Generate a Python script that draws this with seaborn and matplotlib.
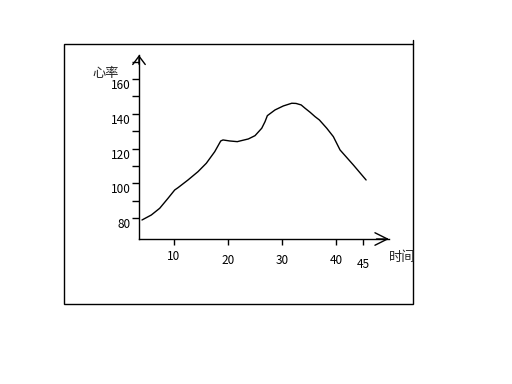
import matplotlib
matplotlib.use("Agg")
import matplotlib.pyplot as plt
import seaborn as sns
import pandas as pd
from matplotlib.patches import Rectangle

# data
time_min = [4.07, 5.80, 7.35, 8.89, 10.13, 10.74, 12.59, 14.44, 15.98, 17.54, 18.65, 19.07,
            20.31, 21.72, 22.22, 23.76, 25.00, 26.24, 26.85, 27.28, 28.70, 30.24, 31.80,
            32.59, 33.54, 34.26, 35.19, 36.11, 36.91, 38.28, 39.50, 40.74, 43.20, 45.56]
heart_rate = [78.85, 81.73, 85.59, 91.35, 96.14, 97.46, 101.90, 106.69, 111.53, 118.21, 124.38, 124.96,
              124.38, 123.98, 124.38, 125.53, 127.44, 131.70, 135.50, 138.96, 142.25, 144.55, 146.11,
              146.00, 145.13, 143.23, 140.92, 138.39, 136.48, 131.70, 126.86, 119.19, 110.55, 101.90]
x_ticks = [10, 20, 30, 40, 45]
y_ticks = [80, 90, 100, 110, 120, 130, 140, 150, 160, 170]
y_labels = ["80", "", "100", "", "120", "", "140", "", "160", ""]
x_label = "时间"
y_label = "心率"

df = pd.DataFrame({"t": time_min, "hr": heart_rate})

sns.set_style("white")
plt.rcParams["font.family"] = ["Noto Sans CJK SC", "DejaVu Sans"]

W, H = 512, 384
fig = plt.figure(figsize=(W / 100, H / 100), dpi=100)
ax = fig.add_axes([139 / W, (H - 239) / H, 250 / W, 184 / H])

sns.lineplot(data=df, x="t", y="hr", ax=ax, color="black", linewidth=1.0,
             sort=False, estimator=None)

ax.set_xlim(3.52, 49.8)
ax.set_ylim(67.9, 173.9)
ax.set_xlabel("")
ax.set_ylabel("")
ax.set_xticks(x_ticks)
ax.set_xticklabels([str(v) for v in x_ticks], fontsize=8.5)
ax.set_yticks(y_ticks)
ax.set_yticklabels(y_labels, fontsize=8.5)
ax.tick_params(axis="y", direction="out", length=5, width=1, pad=1, colors="black", left=True)
ax.tick_params(axis="x", direction="out", length=4, width=1, pad=5, colors="black", bottom=True)
for lbl in ax.get_yticklabels():
    lbl.set_va("top")
# slight stagger of the x labels as in the picture
for tk, p in zip(ax.xaxis.get_major_ticks(), [4, 7, 7, 7, 10]):
    tk.set_pad(p)

for s in ["top", "right"]:
    ax.spines[s].set_visible(False)
for s in ["left", "bottom"]:
    ax.spines[s].set_color("black")
    ax.spines[s].set_linewidth(1.0)

# open arrow heads at the ends of the axes
ax.annotate("", xy=(0, 1.0), xytext=(0, 0.95), xycoords="axes fraction",
            arrowprops=dict(arrowstyle="->,head_length=0.6,head_width=0.45", lw=1, color="black",
                            shrinkA=0, shrinkB=0), annotation_clip=False)
ax.annotate("", xy=(1.0, 0), xytext=(0.95, 0), xycoords="axes fraction",
            arrowprops=dict(arrowstyle="->,head_length=0.9,head_width=0.45", lw=1, color="black",
                            shrinkA=0, shrinkB=0), annotation_clip=False)

fig.text(106 / W, 1 - 74 / H, y_label, fontsize=9.5, ha="center", va="center")
fig.text(402 / W, 1 - 258 / H, x_label, fontsize=9.5, ha="center", va="center")

# outer frame
fig.patches.append(Rectangle((64 / W, 1 - 304 / H), (413 - 64) / W, (304 - 44) / H,
                             transform=fig.transFigure, fill=False, edgecolor="black",
                             linewidth=1.0))
fig.lines.append(plt.Line2D([413 / W, 413 / W], [1 - 44 / H, 1 - 40 / H],
                            transform=fig.transFigure, color="black", linewidth=1.0))

fig.savefig("out.png", dpi=100, facecolor="white")
